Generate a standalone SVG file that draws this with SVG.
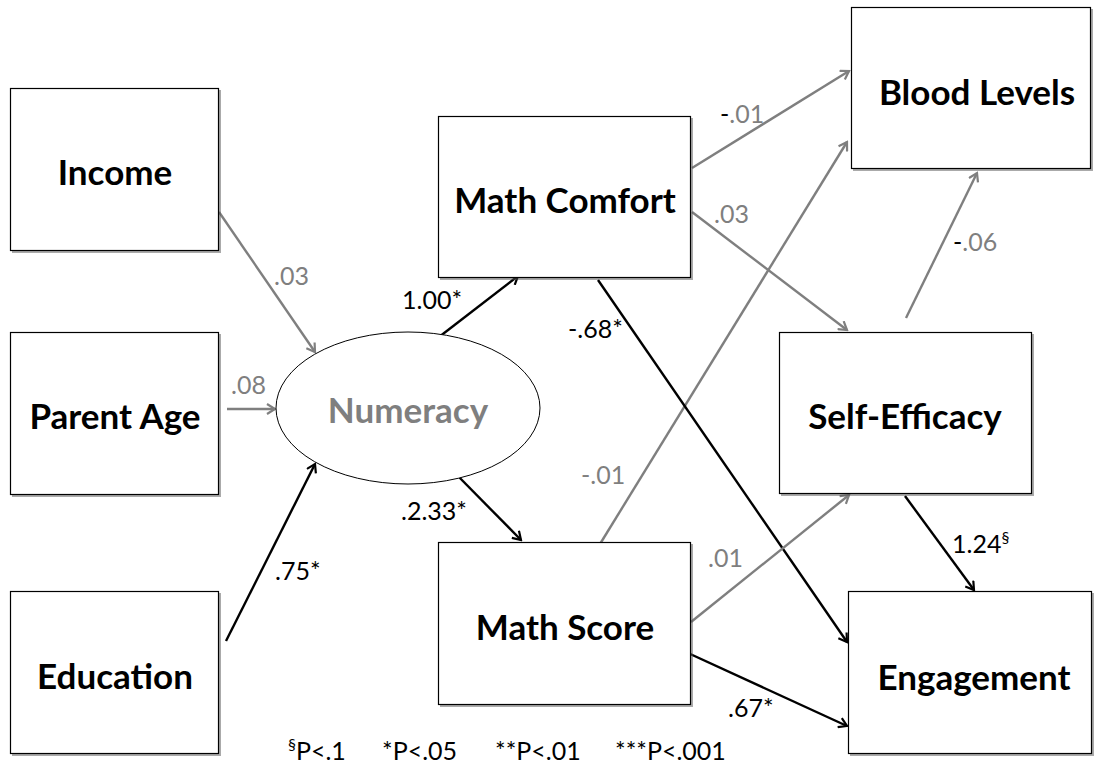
<svg xmlns="http://www.w3.org/2000/svg" width="1097" height="768" viewBox="0 0 1097 768">
<defs>
<style>
.box{fill:#fff;stroke:#000;stroke-width:1.2}
.shadow{fill:#555;opacity:0.5}
.lbl{font-family:Lato,"Liberation Sans",sans-serif;font-weight:bold;font-size:35px;fill:#000;text-anchor:middle}
.num{font-family:Lato,"Liberation Sans",sans-serif;font-size:25px}
.g{stroke:#7f7f7f;stroke-width:2.4;fill:none;marker-end:url(#ag)}
.k{stroke:#000;stroke-width:2.4;fill:none;marker-end:url(#ak)}
.gt{fill:#7f7f7f}
.kt{fill:#000}
</style>
<marker id="ag" viewBox="0 0 12 12" refX="10" refY="6" markerWidth="12" markerHeight="12" markerUnits="userSpaceOnUse" orient="auto">
<polyline points="2,1 10,6 2,11" fill="none" stroke="#7f7f7f" stroke-width="2.2"/>
</marker>
<marker id="ak" viewBox="0 0 12 12" refX="10" refY="6" markerWidth="12" markerHeight="12" markerUnits="userSpaceOnUse" orient="auto">
<polyline points="2,1 10,6 2,11" fill="none" stroke="#000" stroke-width="2.2"/>
</marker>
</defs>
<rect width="1097" height="768" fill="#fff"/>

<g id="connectors">
<line class="g" x1="219" y1="212" x2="315" y2="352"/>
<line class="g" x1="227" y1="409" x2="275" y2="409"/>
<line class="k" x1="226" y1="641" x2="315" y2="464"/>
<line class="k" x1="439" y1="337" x2="518" y2="276"/>
<line class="k" x1="455" y1="473" x2="521" y2="540"/>
<line class="g" x1="692" y1="168" x2="849" y2="71"/>
<line class="g" x1="692" y1="212" x2="847" y2="330"/>
<line class="g" x1="600" y1="544" x2="847" y2="142"/>
<line class="g" x1="906" y1="318" x2="977" y2="173"/>
<line class="k" x1="598" y1="280" x2="847" y2="642"/>
<line class="g" x1="691" y1="622" x2="849" y2="495"/>
<line class="k" x1="688" y1="653" x2="847" y2="726"/>
<line class="k" x1="905" y1="496" x2="974" y2="590"/>
</g>

<g id="labels">
<text class="num gt" x="274" y="285">.03</text>
<text class="num gt" x="231" y="394">.08</text>
<text class="num kt" x="275" y="580">.75*</text>
<text class="num kt" x="402" y="309">1.00*</text>
<text class="num kt" x="401" y="520">.2.33*</text>
<text class="num" x="720" y="123"><tspan class="kt">-</tspan><tspan class="gt">.01</tspan></text>
<text class="num gt" x="714" y="223">.03</text>
<text class="num" x="953" y="251"><tspan class="kt">-</tspan><tspan class="gt">.06</tspan></text>
<text class="num kt" x="568" y="338">-.68*</text>
<text class="num gt" x="581" y="484">-.01</text>
<text class="num gt" x="708" y="567">.01</text>
<text class="num kt" x="952" y="553">1.24<tspan font-size="16" dy="-10">§</tspan></text>
<text class="num kt" x="728" y="717">.67*</text>
<text class="num kt" y="760"><tspan x="288" font-size="16" dy="-10">§</tspan><tspan dy="10">P&lt;.1</tspan><tspan x="382">*P&lt;.05</tspan><tspan x="495">**P&lt;.01</tspan><tspan x="615">***P&lt;.001</tspan></text>
</g>

<g id="income">
<rect class="shadow" x="12" y="90" width="209" height="163"/>
<rect class="box" x="10.5" y="88.5" width="208" height="162"/>
<text class="lbl" x="115" y="185">Income</text>
</g>
<g id="parent-age">
<rect class="shadow" x="12" y="334" width="209" height="163"/>
<rect class="box" x="10.5" y="332.5" width="208" height="162"/>
<text class="lbl" x="115" y="429">Parent Age</text>
</g>
<g id="education">
<rect class="shadow" x="12" y="593" width="209" height="163"/>
<rect class="box" x="10.5" y="591.5" width="208" height="162"/>
<text class="lbl" x="115" y="689">Education</text>
</g>
<g id="numeracy">
<ellipse cx="408" cy="408" rx="132" ry="76" fill="#fff" stroke="#000" stroke-width="1"/>
<text class="lbl" x="408" y="423" style="fill:#7f7f7f">Numeracy</text>
</g>
<g id="math-comfort">
<rect class="shadow" x="440" y="118" width="253" height="162"/>
<rect class="box" x="438.5" y="116.5" width="252" height="161"/>
<text class="lbl" x="565" y="213">Math Comfort</text>
</g>
<g id="math-score">
<rect class="shadow" x="440" y="544" width="253" height="163"/>
<rect class="box" x="438.5" y="542.5" width="252" height="162"/>
<text class="lbl" x="565" y="640">Math Score</text>
</g>
<g id="blood-levels">
<rect class="shadow" x="853" y="9" width="240" height="162"/>
<rect class="box" x="851.5" y="7.5" width="239" height="161"/>
<text class="lbl" x="977" y="105">Blood Levels</text>
</g>
<g id="self-efficacy">
<rect class="shadow" x="781" y="334" width="253" height="162"/>
<rect class="box" x="779.5" y="332.5" width="252" height="161"/>
<text class="lbl" x="905" y="429">Self-Efficacy</text>
</g>
<g id="engagement">
<rect class="shadow" x="850" y="593" width="244" height="163"/>
<rect class="box" x="848.5" y="591.5" width="243" height="162"/>
<text class="lbl" x="974" y="690">Engagement</text>
</g>
</svg>
